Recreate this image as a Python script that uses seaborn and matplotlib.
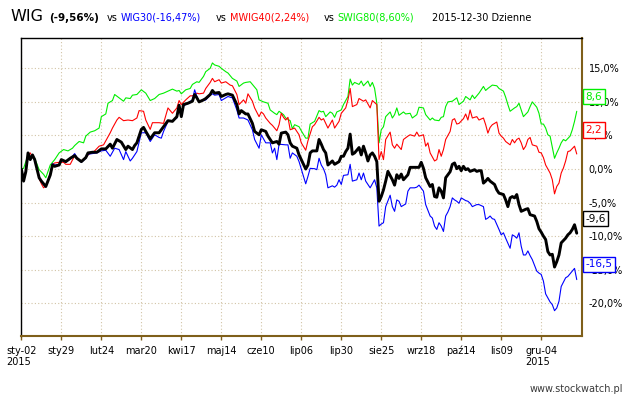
import matplotlib
matplotlib.use("Agg")
import matplotlib.pyplot as plt
import seaborn as sns
import pandas as pd
from matplotlib.ticker import FuncFormatter, FixedLocator

# ---------------- data (trading-day index, % change since 2015-01-02) ----------------
wig_x = [0, 1, 2, 3, 4, 5, 6, 8, 9, 11, 13, 14, 15, 17, 18, 20, 22, 24, 25, 27, 29, 30, 32, 34, 36, 38,
         40, 41, 43, 45, 47, 48, 50, 51, 52, 54, 55, 56, 58, 60, 62, 64, 66, 68, 70, 71, 72, 73, 75, 77,
         78, 79, 80, 82, 83, 85, 86, 87, 89, 90, 92, 93, 95, 97, 98, 99, 101, 102, 104, 105, 107, 108,
         110, 111, 112, 113, 115, 116, 117, 119, 120, 121, 122, 124, 125, 127, 128, 129, 130, 131, 133,
         134, 135, 136, 137, 138, 140, 141, 143, 144, 145, 146, 147, 148, 149, 150, 152, 153, 154, 155,
         156, 157, 158, 159, 160, 161, 162, 163, 164, 165, 167, 168, 169, 170, 171, 172, 174, 175, 177,
         179, 180, 181, 182, 184, 185, 186, 187, 188, 189, 190, 191, 193, 194, 195, 196, 197, 198, 199,
         200, 201, 202, 204, 205, 206, 207, 208, 209, 210, 211, 213, 214, 215, 217, 218, 219, 220, 221,
         222, 223, 224, 225, 227, 228, 229, 231, 232, 233, 234, 235, 236, 237, 238, 239, 240, 241, 242,
         243, 245, 246, 247, 248, 249, 250]
wig_y = [0, -1.8, -0.4, 2.4, 1.4, 2.1, 1.4, -1.3, -1.8, -2.6, -0.9, 0.6, 0.4, 0.6, 1.4, 1.1, 1.6, 2.0, 1.6,
         1.1, 1.7, 2.4, 2.5, 2.5, 3.0, 3.0, 3.7, 3.1, 4.4, 4.0, 2.9, 3.4, 2.9, 3.5, 3.9, 5.9, 6.2, 5.6, 4.5,
         5.4, 5.4, 6.3, 7.2, 7.1, 7.8, 9.5, 7.8, 9.6, 9.8, 10.1, 11.1, 10.6, 10.0, 10.3, 10.5, 11.1, 11.7,
         11.3, 11.4, 10.8, 11.1, 11.2, 11.0, 9.6, 8.2, 8.7, 8.2, 8.2, 6.8, 5.6, 5.1, 5.85, 5.6, 4.9, 4.4,
         3.9, 4.1, 3.7, 5.35, 5.5, 5.1, 3.9, 3.4, 3.1, 2.1, 0.7, 0.0, 0.6, 2.4, 2.7, 2.7, 4.4, 3.7, 2.9,
         2.4, 0.6, 1.2, 0.7, 1.1, 1.9, 1.9, 2.6, 3.1, 5.2, 2.2, 2.4, 3.2, 2.1, 3.4, 2.4, 1.2, 2.1, 2.4,
         1.9, 1.1, -4.8, -4.1, -3.1, -1.8, -0.35, -1.6, -2.4, -0.85, -1.4, -0.75, -1.6, -0.85, 0.25, 0.25,
         0.25, 1.0, 0.1, -1.3, -2.6, -2.3, -4.1, -4.2, -2.8, -3.3, -4.3, -1.3, -0.4, 0.7, 0.9, 0.05, 0.4,
         -0.25, 0.4, -0.1, 0.05, -0.35, -0.1, -0.35, -0.25, -0.25, -2.1, -1.8, -1.4, -1.8, -2.3, -3.1,
         -3.6, -3.8, -4.6, -5.6, -4.3, -4.1, -4.3, -3.8, -5.3, -6.3, -6.0, -5.9, -6.8, -7.0, -7.8, -8.9,
         -9.4, -10.0, -10.5, -12.3, -12.8, -12.7, -14.6, -13.8, -12.8, -11.0, -10.3, -9.8, -9.5, -9.0,
         -8.3, -9.56]

wig30_x = [0, 1, 2, 3, 4, 5, 6, 8, 9, 11, 13, 14, 15, 17, 18, 20, 22, 24, 25, 27, 29, 30, 32, 34, 36, 38,
           40, 42, 43, 44, 46, 47, 49, 50, 52, 54, 56, 58, 60, 62, 63, 64, 66, 68, 70, 71, 72, 73, 75, 77,
           78, 79, 80, 82, 83, 85, 86, 87, 89, 90, 92, 93, 95, 97, 98, 100, 102, 104, 105, 107, 108, 110,
           112, 113, 114, 115, 116, 119, 120, 121, 122, 124, 125, 127, 128, 129, 130, 132, 133, 134, 135,
           136, 137, 138, 140, 141, 142, 143, 144, 145, 147, 148, 149, 151, 152, 153, 154, 155, 157, 158,
           159, 160, 161, 162, 163, 164, 166, 167, 168, 169, 170, 171, 173, 174, 175, 177, 178, 179, 181,
           182, 184, 185, 186, 187, 188, 189, 190, 191, 192, 193, 194, 195, 196, 197, 198, 200, 201, 202,
           203, 205, 206, 208, 209, 210, 211, 212, 213, 215, 216, 217, 218, 220, 221, 222, 223, 224, 225,
           226, 227, 228, 229, 230, 232, 233, 234, 235, 236, 238, 239, 240, 241, 242, 243, 245, 246, 247,
           248, 249, 250]
wig30_y = [0, -1.7, -0.3, 2.3, 1.5, 2.0, 1.3, -1.2, -1.9, -2.7, -0.8, 0.8, 0.6, 0.7, 1.3, 1.0, 1.5, 2.3,
           1.7, 1.0, 1.6, 2.2, 2.3, 2.4, 2.7, 2.8, 1.9, 3.1, 3.0, 2.9, 1.4, 2.6, 1.2, 1.6, 2.6, 5.4, 5.4,
           4.1, 5.1, 4.7, 4.6, 5.6, 7.1, 7.2, 7.6, 9.3, 7.8, 9.4, 9.8, 10.3, 11.8, 10.8, 10.0, 10.2, 10.3,
           11.0, 11.2, 11.0, 11.1, 10.2, 10.6, 10.8, 10.6, 8.8, 7.6, 7.6, 7.3, 5.85, 4.4, 3.1, 5.1, 3.9,
           3.9, 2.4, 3.1, 1.4, 3.7, 3.6, 3.6, 1.6, 2.4, 1.9, 1.1, -1.1, -2.2, -1.1, 0.1, 0.05, -0.1, 1.6,
           0.6, 0.05, -0.85, -2.8, -2.5, -2.7, -2.4, -1.6, -2.3, -0.95, -0.85, 0.7, -1.8, -1.6, -0.6, -1.6,
           -0.6, -1.8, -2.8, -2.2, -1.6, -2.8, -8.5, -8.2, -8.0, -5.6, -3.9, -5.6, -6.3, -4.6, -4.8, -5.6,
           -5.2, -3.3, -2.8, -2.8, -2.7, -2.4, -3.3, -5.3, -7.0, -7.3, -8.5, -9.0, -8.0, -8.5, -9.3, -7.0,
           -6.4, -5.6, -4.3, -4.6, -4.8, -5.1, -4.3, -4.7, -4.8, -5.1, -5.6, -5.3, -5.3, -5.6, -7.5, -7.3,
           -7.0, -7.4, -7.5, -9.0, -9.8, -9.5, -10.3, -11.8, -9.8, -10.0, -10.3, -9.5, -11.5, -12.8, -12.8,
           -12.2, -12.9, -13.5, -15.2, -15.5, -15.7, -16.7, -18.6, -19.8, -20.2, -21.1, -20.7, -19.7,
           -17.5, -16.2, -16.0, -15.6, -15.2, -14.8, -16.47]

mwig40_x = [0, 1, 2, 3, 4, 5, 6, 8, 9, 10, 11, 13, 14, 15, 17, 19, 20, 22, 24, 25, 27, 30, 33, 35, 37, 40,
            41, 43, 44, 46, 48, 50, 52, 53, 55, 56, 58, 59, 62, 64, 66, 68, 70, 71, 72, 74, 76, 77, 79, 80,
            82, 83, 85, 86, 87, 89, 90, 92, 94, 95, 97, 98, 100, 101, 102, 104, 105, 107, 108, 109, 110,
            112, 113, 115, 116, 117, 118, 119, 120, 121, 123, 124, 125, 126, 128, 129, 131, 132, 134, 135,
            136, 137, 138, 139, 140, 141, 143, 144, 146, 147, 148, 149, 151, 152, 154, 155, 156, 157, 158,
            160, 161, 162, 163, 164, 166, 167, 168, 169, 171, 172, 174, 175, 177, 178, 179, 181, 182, 183,
            184, 186, 187, 188, 189, 190, 191, 193, 194, 195, 196, 197, 199, 200, 201, 202, 203, 205, 206,
            208, 209, 210, 211, 212, 214, 215, 216, 217, 218, 220, 221, 222, 223, 224, 225, 226, 227, 228,
            229, 230, 232, 233, 234, 235, 236, 238, 239, 240, 241, 242, 243, 244, 245, 246, 247, 249, 250]
mwig40_y = [0, -1.5, -0.3, 2.2, 2.4, 1.8, 1.5, -1.4, -2.2, -2.8, -2.5, -0.8, 0.7, 0.9, 1.0, 1.0, 0.7, 0.7,
            2.0, 1.5, 1.2, 2.1, 2.7, 3.4, 3.6, 5.4, 6.1, 7.3, 7.7, 7.2, 7.3, 7.2, 7.6, 8.7, 8.6, 7.3, 5.9,
            6.9, 6.9, 6.8, 9.1, 8.3, 9.1, 10.2, 9.6, 10.3, 10.9, 10.9, 11.3, 11.2, 11.3, 12.0, 12.9, 13.5,
            13.0, 13.3, 12.8, 13.0, 12.5, 12.4, 11.1, 9.6, 10.3, 9.8, 11.2, 10.1, 9.1, 7.8, 8.5, 8.2, 7.6,
            6.8, 6.5, 5.7, 6.6, 8.3, 7.7, 7.3, 7.7, 5.85, 6.1, 5.6, 5.1, 3.9, 2.8, 4.2, 6.3, 6.6, 7.7, 7.3,
            7.5, 6.8, 6.1, 6.7, 7.3, 6.1, 7.1, 8.3, 9.1, 10.3, 12.0, 9.3, 9.6, 10.5, 10.1, 10.3, 9.7, 9.1,
            10.2, 9.6, 1.4, 2.6, 1.4, 4.4, 5.5, 3.6, 3.1, 3.7, 2.9, 4.4, 4.9, 5.1, 4.9, 5.5, 4.9, 5.1, 3.4,
            3.9, 2.4, 1.2, 1.4, 2.9, 1.9, 2.9, 4.4, 5.6, 7.3, 7.5, 6.7, 6.8, 7.5, 8.2, 7.3, 8.8, 7.6, 7.8,
            7.3, 7.6, 6.6, 5.35, 6.2, 6.6, 7.0, 5.35, 4.9, 4.6, 4.1, 3.6, 4.4, 3.9, 4.4, 4.6, 3.9, 2.9, 3.4,
            4.4, 4.7, 3.6, 3.4, 2.5, 2.4, 1.7, 0.6, -0.6, -1.6, -3.7, -2.6, -2.1, -0.6, 0.15, 1.2, 2.6,
            2.7, 3.4, 2.24]

swig80_x = [0, 1, 3, 4, 5, 6, 8, 10, 11, 13, 15, 17, 19, 21, 23, 24, 26, 28, 29, 31, 33, 35, 36, 38, 39,
            41, 42, 44, 46, 47, 49, 50, 52, 54, 56, 58, 60, 62, 64, 66, 68, 70, 71, 72, 74, 76, 77, 79, 80,
            82, 83, 85, 86, 87, 89, 90, 92, 93, 95, 97, 98, 100, 101, 103, 104, 106, 107, 109, 111, 112,
            114, 115, 116, 118, 119, 121, 122, 123, 125, 126, 128, 129, 130, 132, 134, 135, 136, 137, 139,
            140, 141, 142, 144, 145, 147, 148, 149, 150, 152, 153, 154, 156, 157, 158, 159, 160, 161, 162,
            163, 164, 166, 167, 168, 169, 170, 172, 173, 175, 176, 178, 179, 181, 182, 184, 185, 186, 188,
            189, 190, 191, 192, 194, 196, 197, 199, 200, 202, 203, 204, 206, 207, 208, 209, 210, 212, 214,
            215, 217, 218, 219, 220, 222, 223, 224, 225, 226, 228, 229, 230, 232, 233, 234, 235, 236, 237,
            238, 240, 241, 242, 243, 244, 245, 247, 248, 249, 250]
swig80_y = [0, 0.1, 2.1, 1.8, 1.9, 1.6, -0.1, -0.8, -1.3, 0.6, 1.4, 2.4, 2.9, 2.7, 3.1, 3.5, 4.1, 3.9, 4.9,
            5.5, 5.7, 6.1, 7.8, 8.2, 9.8, 10.2, 11.1, 10.6, 10.1, 10.6, 10.5, 11.0, 11.1, 11.8, 11.3, 10.2,
            10.5, 11.1, 11.3, 11.6, 11.9, 11.6, 11.7, 11.2, 11.8, 12.0, 12.6, 13.0, 12.9, 13.8, 14.5, 15.0,
            15.8, 15.5, 15.3, 15.0, 14.5, 14.3, 13.5, 13.1, 12.3, 12.8, 12.9, 13.0, 12.6, 11.8, 10.3, 10.0,
            9.8, 8.8, 8.3, 8.1, 8.6, 8.1, 7.6, 7.2, 6.0, 6.6, 6.3, 5.7, 4.6, 4.6, 6.7, 7.1, 8.7, 8.5, 8.6,
            7.8, 8.5, 8.3, 7.7, 8.5, 8.8, 9.6, 10.8, 13.4, 12.5, 12.9, 12.6, 13.1, 12.4, 13.1, 12.3, 12.9,
            12.0, 9.8, 3.9, 5.85, 6.3, 7.8, 8.5, 7.6, 8.1, 9.1, 8.0, 8.5, 8.2, 8.3, 7.6, 8.1, 9.2, 9.1, 8.1,
            7.3, 7.6, 7.3, 7.2, 7.7, 7.8, 9.3, 10.0, 10.1, 10.6, 9.6, 10.1, 10.8, 10.3, 11.0, 10.5, 11.3,
            11.8, 12.3, 11.7, 12.0, 12.5, 12.4, 12.0, 11.6, 10.7, 9.6, 8.6, 9.1, 9.3, 9.8, 8.8, 7.8, 8.5,
            9.3, 10.0, 9.2, 8.3, 6.7, 6.7, 6.1, 5.1, 4.9, 1.6, 2.4, 3.1, 3.9, 4.4, 4.2, 4.9, 5.85, 7.1, 8.6]

tick_days = [0, 18, 36, 54, 72, 90, 108, 126, 144, 162, 180, 198, 216, 234]
tick_labels = ["sty-02\n2015", "sty29", "lut24", "mar20", "kwi17", "maj14", "cze10", "lip06",
               "lip30", "sie25", "wrz18", "paź14", "lis09", "gru-04\n2015"]
y_ticks = [-20, -15, -10, -5, 0, 5, 10, 15]

last_labels = ["8,6", "2,2", "-9,6", "-16,5"]
label_pos = [10.77, 5.81, -7.4, -14.22]  # box centres (layout)

# ---------------- style ----------------
sns.set_style("white")
plt.rcParams['font.family'] = ['DejaVu Sans']

W, H = 630, 400
fig = plt.figure(figsize=(W / 100, H / 100), dpi=100)
ax = fig.add_axes([20.7 / W, 1 - 336 / H, (582.3 - 20.7) / W, (336 - 38.3) / H])

BROWN = "#7f5f1a"
GREEN = "#00ee00"
RED = "#ff0000"
BLUE = "#0000ff"
BLACK = "#000000"

series = [
    (swig80_x, swig80_y, GREEN, 0.8),
    (mwig40_x, mwig40_y, RED, 0.8),
    (wig30_x, wig30_y, BLUE, 0.8),
    (wig_x, wig_y, BLACK, 2.1),
]
for xs, ys, col, lw in series:
    sns.lineplot(x=xs, y=ys, ax=ax, color=col, linewidth=lw, estimator=None, sort=False)

ax.set_xlim(-0.3, 252.5)
ax.set_ylim(-24.87, 19.47)

ax.xaxis.set_major_locator(FixedLocator(tick_days))
ax.set_xticklabels(tick_labels)
ax.yaxis.set_major_locator(FixedLocator(y_ticks))
ax.yaxis.set_major_formatter(FuncFormatter(lambda v, p: f"{v:.1f}%".replace(".", ",")))
ax.yaxis.tick_right()

ax.grid(True, linestyle=(0, (1, 2)), color="#d2c4a6", linewidth=0.8)
ax.set_axisbelow(True)

ax.tick_params(axis="x", direction="out", length=3, width=1, color=BROWN, pad=4,
               labelsize=7, labelcolor="black", bottom=True)
ax.tick_params(axis="y", length=0, pad=4.5, labelsize=7, labelcolor="black", right=True, left=False)
for lab in ax.get_xticklabels():
    lab.set_multialignment("left")

for side in ["left", "top"]:
    ax.spines[side].set_color("black")
    ax.spines[side].set_linewidth(1.0)
for side in ["right", "bottom"]:
    ax.spines[side].set_color(BROWN)
    ax.spines[side].set_linewidth(1.5)
ax.set_xlabel("")
ax.set_ylabel("")

# value boxes at right (same order as last_labels: SWIG80, MWIG40, WIG, WIG30)
box_cols = [GREEN, RED, BLACK, BLUE]
for txt, yp, col in zip(last_labels, label_pos, box_cols):
    ax.annotate(txt, xy=(1.0, yp), xycoords=("axes fraction", "data"),
                xytext=(3, 0), textcoords="offset pixels", ha="left", va="center",
                fontsize=7.5, color=col, annotation_clip=False, zorder=10,
                bbox=dict(boxstyle="square,pad=0.25", fc="white", ec=col, lw=1))

# header
def ftxt(x, y, s, **kw):
    fig.text(x / W, 1 - y / H, s, va="baseline", ha="left", **kw)

ftxt(10, 20.7, "WIG", fontsize=11.5, color="black")
ftxt(49, 20.7, "(-9,56%)", fontsize=7.5, fontweight="bold", color="black")
ftxt(107, 20.7, "vs", fontsize=7, color="black")
ftxt(121, 20.7, "WIG30(-16,47%)", fontsize=7, color=BLUE)
ftxt(216, 20.7, "vs", fontsize=7, color="black")
ftxt(230, 20.7, "MWIG40(2,24%)", fontsize=7, color=RED)
ftxt(324, 20.7, "vs", fontsize=7, color="black")
ftxt(337, 20.7, "SWIG80(8,60%)", fontsize=7, color=GREEN)
ftxt(432, 20.7, "2015-12-30 Dzienne", fontsize=7, color="black")

fig.text(623 / W, 1 - 392 / H, "www.stockwatch.pl", ha="right", va="baseline",
         fontsize=7, color="#3a3a3a")

fig.savefig("out.png", dpi=100, facecolor="white")
